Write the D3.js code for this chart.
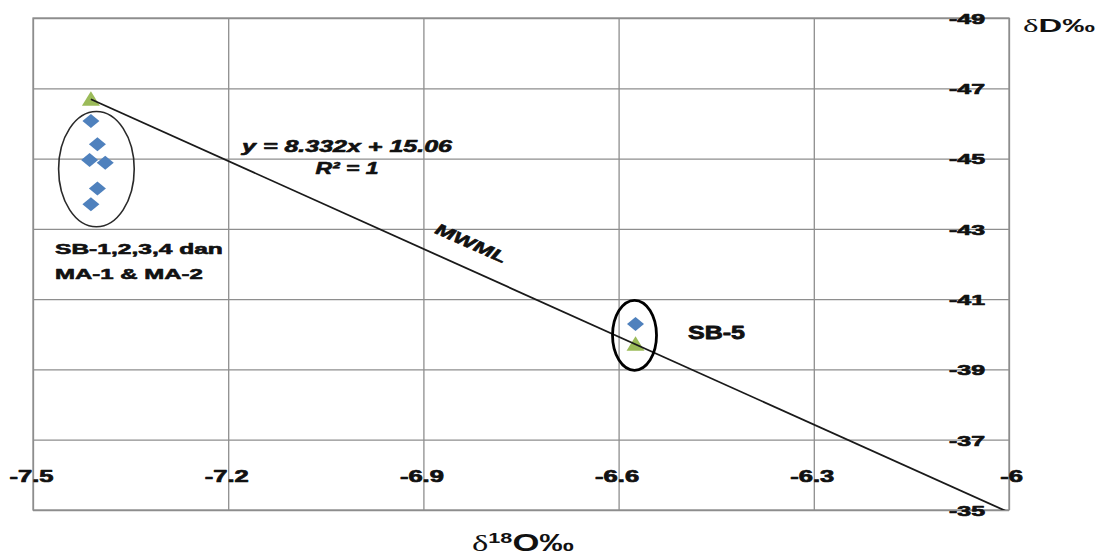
<!DOCTYPE html>
<html>
<head>
<meta charset="utf-8">
<script src="https://cdn.jsdelivr.net/npm/d3@7"></script>
<style>
  body { margin: 0; background: #fff; }
  svg { display: block; font-family: "Liberation Sans", Arial, sans-serif; }
</style>
</head>
<body>
<svg id="chart" width="1107" height="559"></svg>
<script>
// Axis ticks
const xTicks = [-7.5, -7.2, -6.9, -6.6, -6.3, -6];
const yTicks = [-49, -47, -45, -43, -41, -39, -37, -35];

// Samples SB-1..4, MA-1, MA-2 (δ18O, δD)
const groupO18 = [-7.411, -7.401, -7.413, -7.389, -7.401, -7.411];
const groupD   = [-46.07, -45.41, -44.96, -44.88, -44.15, -43.70];

// Sample SB-5
const sb5O18 = [-6.574];
const sb5D   = [-40.29];

// Local meteoric water line reference points
const mwmlO18 = [-7.411, -6.574];
const mwmlD   = [-46.69, -39.72];

// Trendline through the reference points
const trendSlope = 8.332;
const trendIntercept = 15.06;

const groupLabel = ["SB-1,2,3,4 dan", "MA-1 & MA-2"];
const sb5Label = "SB-5";
const lineLabel = "MWML";

const svg = d3.select("#chart");
const plot = { left: 33, right: 1009, top: 18, bottom: 510 };
const pw = plot.right - plot.left, ph = plot.bottom - plot.top;

const x = d3.scaleLinear().domain([-7.5, -6]).range([plot.left, plot.right]);
const y = d3.scaleLinear().domain([-49, -35]).range([plot.top, plot.bottom]);

const gridColor = "#8e8e8e";
const ink = "#111";

// stretch a text horizontally to a given rendered width
function fit(sel, width) {
  const w = sel.node().getComputedTextLength();
  sel.attr("transform", `scale(${width / w},1)`);
}
// heavier bold, as the stretched glyphs otherwise look thin
function heavy(sel, sw) {
  sel.attr("stroke", ink).attr("stroke-width", sw).attr("stroke-linejoin", "round");
}

// gridlines
const vg = svg.append("g")
  .attr("transform", `translate(0,${plot.bottom})`)
  .call(d3.axisBottom(x).tickValues(xTicks).tickSize(-ph).tickFormat(""));
vg.select(".domain").remove();
vg.selectAll("line").attr("stroke", gridColor).attr("stroke-width", 1.3);

const hg = svg.append("g")
  .attr("transform", `translate(${plot.left},0)`)
  .call(d3.axisRight(y).tickValues(yTicks).tickSize(pw).tickFormat(""));
hg.select(".domain").remove();
hg.selectAll("line").attr("stroke", gridColor).attr("stroke-width", 1.3);

svg.append("rect")
  .attr("x", plot.left).attr("y", plot.top).attr("width", pw).attr("height", ph)
  .attr("fill", "none").attr("stroke", gridColor).attr("stroke-width", 1.3);

// clip for the trendline
svg.append("clipPath").attr("id", "plotClip")
  .append("rect").attr("x", plot.left).attr("y", plot.top).attr("width", pw).attr("height", ph);

// reference triangles
const triPath = "M0,-8 L9,6.5 L-9,6.5 Z";
svg.append("g").selectAll("path")
  .data(mwmlO18.map((v, i) => [v, mwmlD[i]]))
  .join("path")
  .attr("d", triPath)
  .attr("transform", d => `translate(${x(d[0])},${y(d[1])})`)
  .attr("fill", "#9bbb59");

// trendline, extended forward to the right edge
const x0 = d3.min(mwmlO18), x1 = -6;
svg.append("line")
  .attr("clip-path", "url(#plotClip)")
  .attr("x1", x(x0)).attr("y1", y(trendSlope * x0 + trendIntercept))
  .attr("x2", x(x1)).attr("y2", y(trendSlope * x1 + trendIntercept))
  .attr("stroke", "#1a1a1a").attr("stroke-width", 1.8);

// sample diamonds
const diaPath = "M0,-7 L8.5,0 L0,7 L-8.5,0 Z";
const samples = groupO18.map((v, i) => [v, groupD[i]])
  .concat(sb5O18.map((v, i) => [v, sb5D[i]]));
svg.append("g").selectAll("path")
  .data(samples)
  .join("path")
  .attr("d", diaPath)
  .attr("transform", d => `translate(${x(d[0])},${y(d[1])})`)
  .attr("fill", "#4f81bd");

// rings around the sample groups
function ring(pts, padX, padY, shiftY, sw, color) {
  const px = pts.map(p => x(p[0])), py = pts.map(p => y(p[1]));
  const [xa, xb] = d3.extent(px), [ya, yb] = d3.extent(py);
  svg.append("ellipse")
    .attr("cx", (xa + xb) / 2 - 1).attr("cy", (ya + yb) / 2 + shiftY)
    .attr("rx", (xb - xa) / 2 + padX).attr("ry", (yb - ya) / 2 + padY)
    .attr("fill", "none").attr("stroke", color).attr("stroke-width", sw);
}
ring(groupO18.map((v, i) => [v, groupD[i]]), 30, 16, 6.5, 1.6, "#2a2a2a");
ring([[sb5O18[0], sb5D[0]], [mwmlO18[1], mwmlD[1]]], 22, 25, 1.2, 2.8, "#000");

// right-hand δD tick labels
const ya = svg.append("g")
  .attr("transform", `translate(985,0)`)
  .call(d3.axisLeft(y).tickValues(yTicks).tickSize(0).tickPadding(0).tickFormat(d => String(d)));
ya.select(".domain").remove();
ya.selectAll("text")
  .attr("font-family", "Liberation Sans, Arial, sans-serif")
  .attr("font-size", 15).attr("font-weight", "bold").attr("fill", ink)
  .attr("dy", "0.36em")
  .call(heavy, 0.7);
{
  const k = 36 / ya.select("text").node().getComputedTextLength();
  ya.selectAll("text").attr("transform", `scale(${k},1)`);
}

// δ18O tick labels
const xa = svg.append("g")
  .attr("transform", `translate(0,476)`)
  .call(d3.axisBottom(x).tickValues(xTicks).tickSize(0).tickPadding(0).tickFormat(d => String(d)));
xa.select(".domain").remove();
xa.selectAll("text")
  .attr("font-family", "Liberation Sans, Arial, sans-serif")
  .attr("font-size", 16).attr("font-weight", "bold").attr("fill", ink)
  .attr("dy", "0.36em")
  .call(heavy, 0.7);
{
  const k = 44 / xa.select("text").node().getComputedTextLength();
  xa.selectAll("text").attr("transform", d => `translate(${d === -6 ? 2 : -2},0) scale(${k},1)`);
}

// annotation helper
function label(px, py, str, opts) {
  const g = svg.append("g").attr("transform", `translate(${px},${py})${opts.rotate ? ` rotate(${opts.rotate})` : ""}`);
  const t = g.append("text")
    .attr("text-anchor", opts.anchor || "start")
    .attr("font-size", opts.size)
    .attr("font-weight", "bold")
    .attr("font-style", opts.italic ? "italic" : "normal")
    .attr("fill", ink)
    .text(str);
  if (opts.central) t.attr("dy", "0.35em");
  heavy(t, opts.stroke || 0.6);
  fit(t, opts.width);
  return t;
}

label(347, 152, `y = ${trendSlope}x + ${trendIntercept}`, { anchor: "middle", size: 16, italic: true, width: 210 });
label(347, 174, "R² = 1", { anchor: "middle", size: 16, italic: true, width: 63 });
label(471, 243, lineLabel, { anchor: "middle", size: 16, italic: true, width: 76, rotate: 24, central: true });
label(55, 254, groupLabel[0], { size: 15, width: 168 });
label(55, 279, groupLabel[1], { size: 15, width: 148 });
label(688, 339, sb5Label, { size: 19, width: 57, stroke: 0.8 });

// axis titles
{
  const g = svg.append("g").attr("transform", "translate(1023,32)");
  const t = g.append("text").attr("font-size", 19).attr("fill", ink);
  t.append("tspan").attr("font-family", "Liberation Serif, Times New Roman, serif").text("δ");
  t.append("tspan").attr("font-weight", "bold").text("D‰");
  fit(t, 72);
}
{
  const g = svg.append("g").attr("transform", "translate(472,551)");
  const t = g.append("text").attr("font-size", 24).attr("fill", ink);
  t.append("tspan").attr("font-family", "Liberation Serif, Times New Roman, serif").text("δ");
  t.append("tspan").attr("font-weight", "bold").attr("font-size", 15).attr("dy", -8).text("18");
  t.append("tspan").attr("font-weight", "bold").attr("dy", 8).text("O‰");
  fit(t, 102);
}
</script>
</body>
</html>
